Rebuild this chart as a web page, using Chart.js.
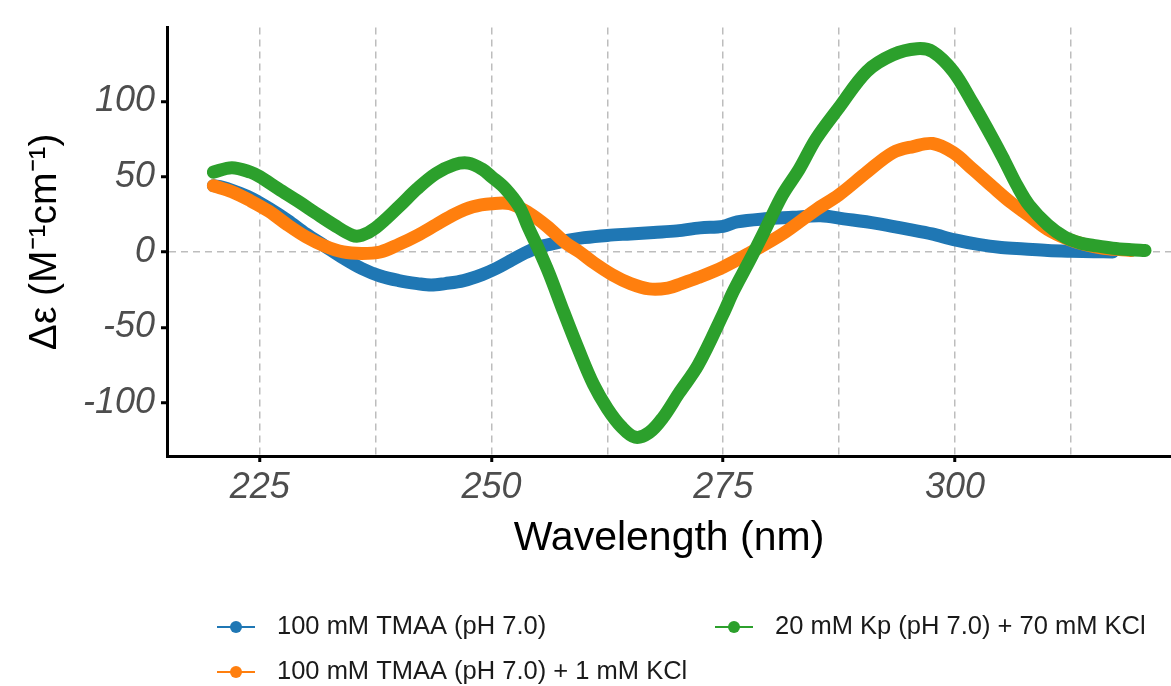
<!DOCTYPE html>
<html>
<head>
<meta charset="utf-8">
<script src="https://cdn.jsdelivr.net/npm/chart.js@4.4.1/dist/chart.umd.min.js"></script>
<style>
  html, body { margin: 0; padding: 0; background: #fff; }
  #cd-chart { display: block; }
</style>
</head>
<body>
<canvas id="cd-chart" width="1171" height="686"></canvas>
<script>
// Series names (legend text)
const seriesLabels = [
    '100 mM TMAA (pH 7.0)',
    '100 mM TMAA (pH 7.0) + 1 mM KCl',
    '20 mM Kp (pH 7.0) + 70 mM KCl'
];

// 100 mM TMAA (pH 7.0)
const waveBlue = [220, 221, 222, 224, 226, 228, 230, 232, 234, 236, 238, 240, 242, 243.5, 245, 247, 249, 250.5, 252, 253.5, 255, 257, 258.5, 260, 262.5, 265, 267.5, 270, 272.5, 275, 276.5, 279.5, 282.5, 285.5, 288, 291.5, 295, 297.5, 300, 302.5, 305, 307.5, 310, 312.5, 315, 317];
const cdBlue = [44, 43, 41, 36, 29, 21, 12, 4, -4, -11, -16, -19, -21, -22, -21, -19, -15, -11, -6, -1, 3, 6, 8, 9.5, 11, 12, 13, 14, 16, 17, 20, 22, 23, 24, 22, 19, 15, 12, 8, 5, 3, 2, 1, 0.5, 0.2, 0];

// 100 mM TMAA (pH 7.0) + 1 mM KCl
const waveOrange = [220, 222, 224, 226, 228, 230, 232, 234, 236, 238, 240, 242, 244, 246, 248, 250, 252, 254, 256, 258, 259.5, 261, 263, 265, 267, 269, 270.5, 272.3, 275, 277.9, 281.4, 285, 287.5, 290.5, 293.3, 295.5, 297.6, 299.8, 301.9, 304.1, 306, 308, 310, 312, 314, 316, 318, 319];
const cdOrange = [44, 40, 34, 27, 18, 10, 4, 0, -1, 0, 5, 11, 18, 25, 30, 32, 32, 26, 17, 6, 0, -7, -15, -21, -24.5, -24, -21, -17, -10, -0.5, 12, 28, 38, 53, 66, 70, 72, 66, 55, 43, 33, 24, 15, 9, 5, 2.5, 1.5, 1];

// 20 mM Kp (pH 7.0) + 70 mM KCl
const waveGreen = [220, 222, 224, 225, 227, 229.3, 231, 233, 235, 236, 237.5, 240, 242, 244, 246, 247.5, 249, 250, 251.5, 253, 254, 255, 256.2, 257.8, 259.4, 261, 262.5, 264, 265.5, 267, 268.5, 270.2, 272.3, 275, 276.1, 277.9, 279.7, 281.4, 283.2, 285, 287.5, 290.5, 293.3, 295.9, 297.6, 299.8, 301.9, 304.1, 305.3, 306.7, 308, 310, 311.8, 313.5, 315.3, 317, 319, 320.5];
const cdGreen = [53, 56, 53, 50, 42, 33, 26, 18, 11, 11, 16, 30, 42, 52, 58, 59, 55, 50, 42, 30, 16, 3, -14, -40, -65, -88, -104, -116, -123, -120, -110, -94, -75, -41, -26, -5, 17, 38, 55, 75, 96, 120, 131, 135, 133, 120, 99, 75, 61, 44, 31, 18, 10, 6, 4, 2.5, 1.5, 1];

// Axis ticks
const xTicks = [225, 237.5, 250, 262.5, 275, 287.5, 300, 312.5];
const xTickLabels = ['225', '', '250', '', '275', '', '300', ''];
const yTicks = [-100, -50, 0, 50, 100];

const colors = ['#1f77b4', '#ff7f0e', '#2ca02c'];

function toPoints(xs, ys) {
    return xs.map((x, i) => ({ x: x, y: ys[i] }));
}

// legend drawn by hand: ggplot style line + dot, laid out in two columns
const cdLegend = {
    id: 'cdLegend',
    afterDraw(chart) {
        const ctx = chart.ctx;
        const slots = [
            { x: 217, y: 627 },
            { x: 217, y: 672 },
            { x: 715, y: 627 }
        ];
        ctx.save();
        chart.data.datasets.forEach((ds, i) => {
            const s = slots[i];
            ctx.strokeStyle = ds.borderColor;
            ctx.lineWidth = 2;
            ctx.beginPath();
            ctx.moveTo(s.x, s.y);
            ctx.lineTo(s.x + 38, s.y);
            ctx.stroke();
            ctx.fillStyle = ds.borderColor;
            ctx.beginPath();
            ctx.arc(s.x + 19, s.y, 6, 0, Math.PI * 2);
            ctx.fill();
            ctx.fillStyle = '#1a1a1a';
            ctx.font = '25.5px "Liberation Sans", Arial, sans-serif';
            ctx.textBaseline = 'middle';
            ctx.textAlign = 'left';
            ctx.fillText(ds.label, s.x + 60, s.y);
        });
        ctx.restore();
    }
};

const ctx = document.getElementById('cd-chart').getContext('2d');
const cdChart = new Chart(ctx, {
    type: 'line',
    data: {
        datasets: [
            { label: seriesLabels[0], data: toPoints(waveBlue, cdBlue), borderColor: colors[0], order: 3 },
            { label: seriesLabels[1], data: toPoints(waveOrange, cdOrange), borderColor: colors[1], order: 2 },
            { label: seriesLabels[2], data: toPoints(waveGreen, cdGreen), borderColor: colors[2], order: 1 }
        ]
    },
    options: {
        responsive: false,
        animation: false,
        devicePixelRatio: 1,
        layout: { padding: { top: 15, right: 0, left: 0, bottom: 100 } },
        elements: {
            line: {
                borderWidth: 13,
                tension: 0.35,
                borderCapStyle: 'round',
                borderJoinStyle: 'round',
                fill: false
            },
            point: { radius: 0, hoverRadius: 0 }
        },
        plugins: {
            legend: { display: false },
            tooltip: { enabled: false }
        },
        scales: {
            x: {
                type: 'linear',
                min: 215,
                max: 323.3,
                afterFit: (scale) => { scale.height = 130; },
                afterBuildTicks: (scale) => { scale.ticks = xTicks.map(v => ({ value: v })); },
                ticks: {
                    autoSkip: false,
                    maxRotation: 0,
                    padding: 4,
                    color: '#4d4d4d',
                    font: { family: '"Liberation Sans", Arial, sans-serif', size: 36, style: 'italic' },
                    callback: (value) => xTickLabels[xTicks.indexOf(value)]
                },
                grid: {
                    color: '#bdbdbd',
                    lineWidth: 1.5,
                    drawTicks: true,
                    tickLength: 6,
                    tickWidth: 3,
                    tickColor: (c) => (c.tick && c.tick.value % 25 === 0) ? '#000' : 'rgba(0,0,0,0)'
                },
                border: { display: true, color: '#000', width: 3, dash: [7, 5] },
                title: {
                    display: true,
                    text: 'Wavelength (nm)',
                    color: '#000',
                    font: { family: '"Liberation Sans", Arial, sans-serif', size: 41 },
                    padding: { top: 0, bottom: 23 }
                }
            },
            y: {
                min: -135.5,
                max: 149,
                afterFit: (scale) => { scale.width = 167; },
                afterBuildTicks: (scale) => { scale.ticks = yTicks.map(v => ({ value: v })); },
                ticks: {
                    padding: 6,
                    color: '#4d4d4d',
                    font: { family: '"Liberation Sans", Arial, sans-serif', size: 36, style: 'italic' }
                },
                grid: {
                    color: (c) => (c.tick && c.tick.value === 0) ? '#bdbdbd' : 'rgba(0,0,0,0)',
                    lineWidth: 1.5,
                    drawTicks: true,
                    tickLength: 6,
                    tickWidth: 3,
                    tickColor: '#000'
                },
                border: { display: true, color: '#000', width: 3, dash: [7, 5] },
                title: {
                    display: true,
                    text: 'Δε (M⁻¹cm⁻¹)',
                    color: '#000',
                    font: { family: '"Liberation Sans", Arial, sans-serif', size: 39 },
                    padding: { top: 22, bottom: 0 }
                }
            }
        }
    },
    plugins: [cdLegend]
});
</script>
</body>
</html>
